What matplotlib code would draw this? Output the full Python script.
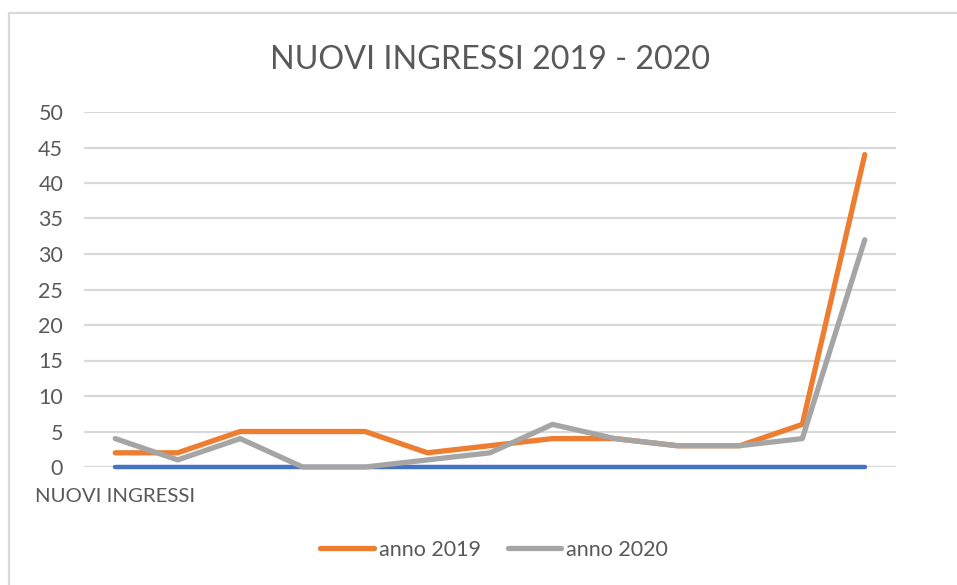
import matplotlib
matplotlib.use("Agg")
import matplotlib.pyplot as plt
from matplotlib.lines import Line2D
from matplotlib.patches import Rectangle

# Data
categories = list(range(13))
anno_2019 = [2, 2, 5, 5, 5, 2, 3, 4, 4, 3, 3, 6, 44]
anno_2020 = [4, 1, 4, 0, 0, 1, 2, 6, 4, 3, 3, 4, 32]
nuovi_ingressi = [0] * 13
y_ticks = [0, 5, 10, 15, 20, 25, 30, 35, 40, 45, 50]

ORANGE = "#ED7D31"
GRAY = "#A5A5A5"
BLUE = "#4472C4"
TEXT = "#595959"
GRID = "#D9D9D9"

plt.rcParams["font.family"] = ["Lato", "DejaVu Sans"]

fig = plt.figure(figsize=(9.57, 5.85), dpi=100)
W, H = 957, 585

# outer chart border (cut off at right and bottom)
fig.patches.append(Rectangle((9 / W, -0.1), 1.2, 1 - 13 / H + 0.1,
                             transform=fig.transFigure, fill=False,
                             edgecolor=GRID, lw=1.6))

ax = fig.add_axes([84 / W, 1 - 467 / H, (896 - 84) / W, (467 - 112) / H])

ax.plot(categories, nuovi_ingressi, color=BLUE, lw=3.2,
        solid_capstyle="round", clip_on=False, zorder=3)
ax.plot(categories, anno_2019, color=ORANGE, lw=3.8,
        solid_capstyle="round", solid_joinstyle="round", clip_on=False, zorder=4)
ax.plot(categories, anno_2020, color=GRAY, lw=3.8,
        solid_capstyle="round", solid_joinstyle="round", clip_on=False, zorder=5)

ax.set_xlim(-0.5, 12.5)
ax.set_ylim(0, 50)
ax.set_yticks(y_ticks)
ax.set_xticks([])
ax.tick_params(axis="y", length=0, pad=15, labelsize=15.5, labelcolor=TEXT)
ax.grid(axis="y", color=GRID, lw=1.6)
ax.set_axisbelow(True)
for s in ax.spines.values():
    s.set_visible(False)

fig.text(35 / W, 1 - 497 / H, "NUOVI INGRESSI", fontsize=14.7, color=TEXT,
         ha="left", va="center")

fig.text(490 / W, 1 - 60 / H, "NUOVI INGRESSI 2019 - 2020", fontsize=23.2,
         color=TEXT, ha="center", va="center")

handles = [Line2D([], [], color=ORANGE, lw=3.8, solid_capstyle="round"),
           Line2D([], [], color=GRAY, lw=3.8, solid_capstyle="round")]
fig.legend(handles, ["anno 2019", "anno 2020"], loc="center",
           bbox_to_anchor=(494 / W, 1 - 550 / H), ncol=2, frameon=False,
           fontsize=15.5, labelcolor=TEXT, handlelength=2.5, handletextpad=0.2,
           columnspacing=1.25)

fig.savefig("out.png", dpi=100, facecolor="white")
